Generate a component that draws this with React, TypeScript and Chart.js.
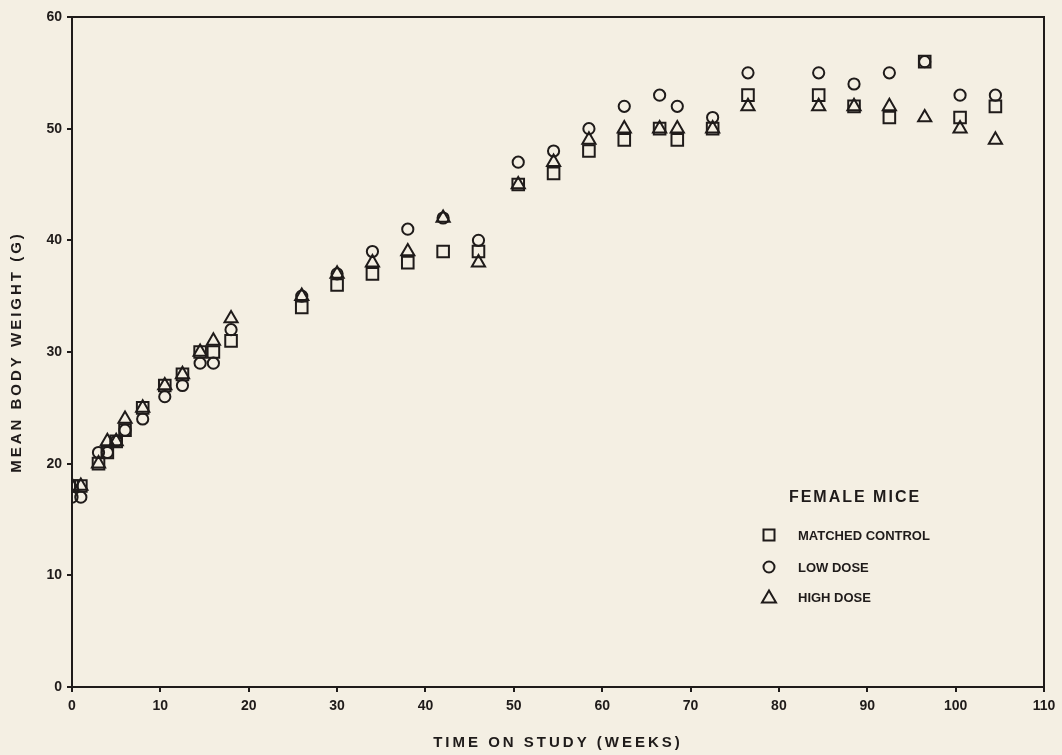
import React, { useEffect, useRef } from 'react';
import { Chart, registerables } from 'chart.js';

Chart.register(...registerables);

// ---- Data ----
const weeks = [0, 1, 3, 4, 5, 6, 8, 10.5, 12.5, 14.5, 16, 18, 26, 30, 34, 38, 42, 46, 50.5, 54.5, 58.5, 62.5, 66.5, 68.5, 72.5, 76.5, 84.5, 88.5, 92.5, 96.5, 100.5, 104.5];
const controlValues = [18, 18, 20, 21, 22, 23, 25, 27, 28, 30, 30, 31, 34, 36, 37, 38, 39, 39, 45, 46, 48, 49, 50, 49, 50, 53, 53, 52, 51, 56, 51, 52];
const lowDoseValues = [17, 17, 21, 21, 22, 23, 24, 26, 27, 29, 29, 32, 35, 37, 39, 41, 42, 40, 47, 48, 50, 52, 53, 52, 51, 55, 55, 54, 55, 56, 53, 53];
const highDoseValues = [18, 18, 20, 22, 22, 24, 25, 27, 28, 30, 31, 33, 35, 37, 38, 39, 42, 38, 45, 47, 49, 50, 50, 50, 50, 52, 52, 52, 52, 51, 50, 49];

const seriesNames = ['MATCHED CONTROL', 'LOW DOSE', 'HIGH DOSE'];
const legendTitle = 'FEMALE MICE';
const xTitle = 'TIME ON STUDY (WEEKS)';
const yTitle = 'MEAN BODY WEIGHT (G)';

const BG = '#f4efe3';
const INK = '#1f1b1a';
const FONT = '"Liberation Sans", Arial, Helvetica, sans-serif';

const toPoints = (vals: number[]) => weeks.map((w, i) => ({ x: w, y: vals[i] }));

function drawMarker(ctx: CanvasRenderingContext2D, kind: number, x: number, y: number) {
  ctx.beginPath();
  if (kind === 0) {
    ctx.rect(x - 5.5, y - 5.5, 11, 11);
  } else if (kind === 1) {
    ctx.arc(x, y, 5.5, 0, Math.PI * 2);
  } else {
    ctx.moveTo(x, y - 6.5);
    ctx.lineTo(x + 7, y + 5.5);
    ctx.lineTo(x - 7, y + 5.5);
    ctx.closePath();
  }
  ctx.stroke();
}

const framePlugin = {
  id: 'frameAndLegend',
  beforeDraw(chart: any) {
    Object.values(chart.scales).forEach((s: any) => {
      if (!s.__spaced) {
        const orig = s.drawTitle.bind(s);
        s.drawTitle = function () {
          const c = chart.ctx;
          c.save();
          (c as any).letterSpacing = '3px';
          orig();
          c.restore();
        };
        s.__spaced = true;
      }
    });
    const ctx = chart.ctx;
    ctx.save();
    ctx.fillStyle = BG;
    ctx.fillRect(0, 0, chart.width, chart.height);
    ctx.restore();
  },
  afterDraw(chart: any) {
    const ctx: CanvasRenderingContext2D = chart.ctx;
    const { left, top, right, bottom } = chart.chartArea;
    ctx.save();
    ctx.strokeStyle = INK;
    ctx.lineWidth = 2;
    ctx.strokeRect(left, top, right - left, bottom - top);

    // legend
    const lx = left + 697;
    const ly = top + 481;
    ctx.fillStyle = INK;
    ctx.textBaseline = 'middle';
    ctx.textAlign = 'center';
    ctx.font = `bold 16px ${FONT}`;
    (ctx as any).letterSpacing = '2px';
    ctx.fillText(legendTitle, lx + 86, ly);
    (ctx as any).letterSpacing = '0px';
    ctx.textAlign = 'left';
    ctx.font = `bold 13px ${FONT}`;
    ctx.lineWidth = 2;
    const rows = [37, 69, 99];
    seriesNames.forEach((name, i) => {
      drawMarker(ctx, i, lx, ly + rows[i]);
      ctx.fillText(name, lx + 29, ly + rows[i] + 1);
    });
    ctx.restore();
  },
};

export default function App() {
  const ref = useRef<HTMLCanvasElement | null>(null);

  useEffect(() => {
    document.body.style.margin = '0';
    document.body.style.background = BG;
    if (!ref.current) return;
    const common = {
      showLine: false,
      borderColor: INK,
      backgroundColor: 'rgba(0,0,0,0)',
      pointBorderColor: INK,
      pointBackgroundColor: 'rgba(0,0,0,0)',
      pointBorderWidth: 2,
    };
    const chart = new Chart(ref.current, {
      type: 'scatter',
      data: {
        datasets: [
          { ...common, label: seriesNames[0], data: toPoints(controlValues), pointStyle: 'rect', pointRadius: 8.2 },
          { ...common, label: seriesNames[1], data: toPoints(lowDoseValues), pointStyle: 'circle', pointRadius: 5.6 },
          { ...common, label: seriesNames[2], data: toPoints(highDoseValues), pointStyle: 'triangle', pointRadius: 7.6 },
        ],
      },
      options: {
        responsive: false,
        animation: false,
        events: [],
        layout: { padding: { top: 17, right: 18, left: 0, bottom: 0 } },
        plugins: {
          legend: { display: false },
          tooltip: { enabled: false },
          title: { display: false },
        },
        scales: {
          x: {
            type: 'linear',
            min: 0,
            max: 110,
            afterFit: (s: any) => { s.height = 68; },
            ticks: {
              stepSize: 10,
              autoSkip: false,
              maxRotation: 0,
              padding: 6,
              color: INK,
              font: { family: FONT, size: 14, weight: 'bold' },
            },
            grid: { drawOnChartArea: false, drawTicks: true, tickLength: 5, color: INK, lineWidth: 2 },
            border: { display: true, color: INK, width: 2 },
            title: {
              display: true,
              text: xTitle,
              color: INK,
              font: { family: FONT, size: 15, weight: 'bold' },
              padding: { top: 0, bottom: 3 },
            },
          },
          y: {
            type: 'linear',
            min: 0,
            max: 60,
            afterFit: (s: any) => { s.width = 72; },
            ticks: {
              stepSize: 10,
              padding: 5,
              color: INK,
              font: { family: FONT, size: 14, weight: 'bold' },
            },
            grid: { drawOnChartArea: false, drawTicks: true, tickLength: 5, color: INK, lineWidth: 2 },
            border: { display: true, color: INK, width: 2 },
            title: {
              display: true,
              text: yTitle,
              color: INK,
              font: { family: FONT, size: 15, weight: 'bold' },
              padding: { top: 8, bottom: 0 },
            },
          },
        },
      },
      plugins: [framePlugin],
    } as any);
    return () => chart.destroy();
  }, []);

  return (
    <div style={{ width: 1062, height: 755, background: BG }}>
      <canvas ref={ref} width={1062} height={755} style={{ display: 'block' }} />
    </div>
  );
}
